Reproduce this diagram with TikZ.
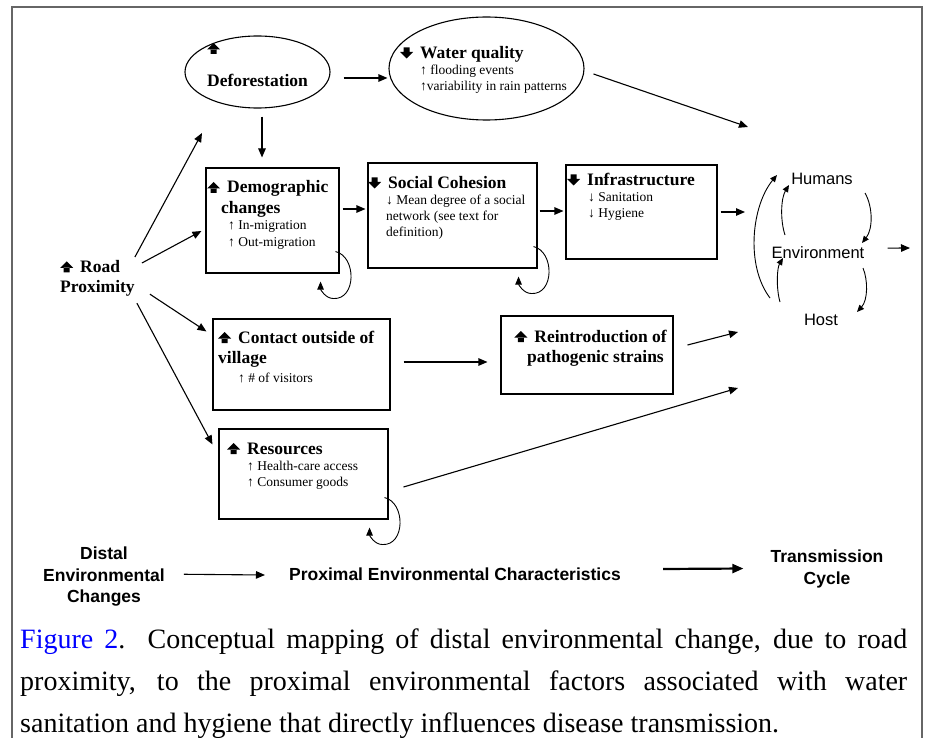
\documentclass[tikz,border=0pt]{standalone}
\usepackage{fontspec}
\setmainfont{Liberation Serif}
\setsansfont{Liberation Sans}
\usetikzlibrary{shapes.geometric, arrows.meta, calc}

% solid block arrows in front of the box titles
\newcommand\blockup{\tikz[baseline=0pt,x=1pt,y=1pt]\fill (3.5,0) rectangle (9.5,5) (0,4.5) -- (13,4.5) -- (6.5,11) -- cycle;}
\newcommand\blockdown{\tikz[baseline=0pt,x=1pt,y=1pt]\fill (3.5,6.5) rectangle (9.5,11.5) (0,7) -- (13,7) -- (6.5,0.5) -- cycle;}
\newcommand\upmark{\blockup\hspace{7pt}}
\newcommand\downmark{\blockdown\hspace{7pt}}
% feedback loop below the lower right corner of a box
\newcommand\loopback[1]{%
  \draw[looparr] ($(#1.south east)+(-4,-22)$) .. controls +(21,5) and +(23,1) .. ($(#1.south east)+(-6,25)$)
    .. controls +(-8,0) and +(0,8) .. ($(#1.south east)+(-19,8)$);}

\tikzset{
  outerframe/.style={draw=black!60, line width=1.5pt},
  box/.style={draw, line width=1.1pt, inner sep=0pt},
  oval/.style={ellipse, draw, line width=1.1pt, inner sep=0pt},
  ttl/.style={font=\fontsize{17.5}{20.5}\selectfont\bfseries, inner sep=0pt, anchor=base west},
  body/.style={font=\fontsize{13.5}{16}\selectfont, inner sep=0pt, align=left, anchor=north west, execute at begin node=\strut},
  cyclbl/.style={font=\sffamily\fontsize{16.5}{19}\selectfont, inner sep=0pt, anchor=base},
  keylbl/.style={font=\sffamily\bfseries\fontsize{17.5}{21.5}\selectfont, inner sep=0pt, align=center},
  caption/.style={font=\fontsize{28}{42}\selectfont, text width=887pt, align=justify, inner sep=0pt, anchor=north west, execute at begin node=\strut},
  arr/.style={-{Triangle[length=9pt,width=7.5pt]}, line width=1.1pt},
  looparr/.style={-{Triangle[length=8pt,width=6.5pt]}, line width=0.9pt},
  cycarr/.style={-{Triangle[length=7pt,width=6pt]}, line width=0.9pt},
  bigarr/.style={-{Triangle[length=11pt,width=9pt]}, line width=2.2pt},
}

\begin{document}
\begin{tikzpicture}[x=1pt,y=-1pt]
  \useasboundingbox (0,0) rectangle (927,738);
  \clip (0,0) rectangle (927,738);
  \draw[outerframe] (12,7) rectangle (922,760);

  % distal changes
  \node[oval, minimum width=145pt, minimum height=72pt] (defor) at (257.5,72) {};
  \node[oval, minimum width=195pt, minimum height=103pt] (water) at (486.5,68.5) {};

  % proximal characteristics
  \node[box, minimum width=133pt, minimum height=105pt] (demo) at (272.5,220.5) {};
  \node[box, minimum width=169pt, minimum height=105pt] (social) at (452.5,215.5) {};
  \node[box, minimum width=151pt, minimum height=94pt] (infra) at (641.5,212) {};
  \node[box, minimum width=177pt, minimum height=91pt] (contact) at (301.5,364.5) {};
  \node[box, minimum width=172pt, minimum height=78pt] (reintro) at (587,355) {};
  \node[box, minimum width=169pt, minimum height=90pt] (resources) at (303.5,474) {};

  % box texts
  \node[inner sep=0pt, anchor=base west] (defor-a) at (207,54) {\blockup};
  \node[ttl] (defor-t) at (207,87) {Deforestation};
  \node[ttl] (water-t) at (400,59) {\downmark Water quality};
  \node[body] (water-b) at (420,64.8) {↑ flooding events\\↑variability in rain patterns};
  \node[ttl] (demo-t) at (207,193) {\upmark Demographic};
  \node[ttl] (demo-t2) at (221,214) {changes};
  \node[body, font=\fontsize{13.5}{17}\selectfont] (demo-b) at (228,220.1) {↑ In-migration\\↑ Out-migration};
  \node[ttl] (social-t) at (368,189) {\downmark Social Cohesion};
  \node[body] (social-b) at (386,194.8) {↓ Mean degree of a social\\network (see text for\\definition)};
  \node[ttl] (infra-t) at (567,186) {\downmark Infrastructure};
  \node[body] (infra-b) at (588,192.8) {↓ Sanitation\\↓ Hygiene};
  \node[ttl, align=left, anchor=north west, execute at begin node=\strut] (road) at (60,260) {\upmark Road\\Proximity};
  \node[ttl] (contact-t) at (218,343) {\upmark Contact outside of};
  \node[ttl] (contact-t2) at (218,363) {village};
  \node[body] (contact-b) at (238,370.8) {↑ \# of visitors};
  \node[ttl, anchor=base east] (reintro-t) at (667,342) {\upmark Reintroduction of};
  \node[ttl, anchor=base east] (reintro-t2) at (664,362) {pathogenic strains};
  \node[ttl] (resources-t) at (227,454) {\upmark Resources};
  \node[body] (resources-b) at (247,460.8) {↑ Health-care access\\↑ Consumer goods};

  % transmission cycle
  \node[cyclbl] (humans) at (822,185) {Humans};
  \node[cyclbl] (env) at (818,259) {Environment};
  \node[cyclbl] (host) at (821,326) {Host};

  % free arrow ends
  \coordinate (road-up) at (202,133);
  \coordinate (cyc-w) at (748,127);
  \coordinate (cyc-i) at (745,212);
  \coordinate (cyc-r) at (738,332);
  \coordinate (cyc-s) at (738,388);
  \coordinate (cyc-out) at (910,248);

  % key
  \node[keylbl, anchor=north, execute at begin node=\strut] (distal) at (104,547) {Distal\\Environmental\\Changes};
  \node[keylbl, anchor=base] (proximal) at (455,580) {Proximal Environmental Characteristics};
  \node[keylbl, anchor=north, execute at begin node=\strut] (trans) at (827,550) {Transmission\\Cycle};

  % connectors
  \draw[arr] ($(defor.east)+(13,6)$) -- ($(water.west)+(-1,9.5)$);
  \draw[arr] ($(water.east)+(9,5.5)$) -- (cyc-w);
  \draw[arr] ($(defor.south)+(4.5,8)$) -- ($(demo.north)+(-10.5,-10)$);
  \draw[arr] ($(road.north east)+(0,-3)$) -- (road-up);
  \draw[arr] ($(road.north east)+(7,3)$) -- ($(demo.west)+(-4,10.5)$);
  \draw[arr] ($(road.south east)+(15,-5)$) -- ($(contact.north west)+(-6,13)$);
  \draw[arr] ($(road.south east)+(2,4)$) -- ($(resources.north west)+(-6,16)$);
  \draw[arr] ($(demo.east)+(3,-11.5)$) -- ($(social.west)+(-2,-6.5)$);
  \draw[arr] ($(social.east)+(2,-4.5)$) -- ($(infra.west)+(-2,-1)$);
  \draw[arr] ($(infra.east)+(3,0)$) -- (cyc-i);
  \draw[arr] ($(contact.east)+(13,-2.5)$) -- ($(reintro.west)+(-13,7)$);
  \draw[arr] ($(reintro.east)+(14,-10)$) -- (cyc-r);
  \draw[arr] ($(resources.east)+(15,13)$) -- (cyc-s);
  \loopback{demo}
  \loopback{social}
  \loopback{resources}

  % cycle arcs
  \draw[cycarr] ($(humans.base)+(43,8)$) .. controls ($(humans.base)+(51,22)$) and ($(env.base)+(55,-30)$) .. ($(env.base)+(44,-16)$);
  \draw[cycarr] ($(env.base)+(45,9)$) .. controls ($(env.base)+(50,21)$) and ($(host.base)+(47,-26)$) .. ($(host.base)+(36,-14)$);
  \draw[cycarr] ($(env.base)+(-33,-24)$) .. controls ($(env.base)+(-38,-39)$) and ($(humans.base)+(-41,13)$) .. ($(humans.base)+(-33,0)$);
  \draw[cycarr] ($(host.base)+(-41,-24)$) .. controls ($(host.base)+(-45,-38)$) and ($(env.base)+(-41,9)$) .. ($(env.base)+(-35,-1)$);
  \draw[cycarr] ($(host.base)+(-51,-28)$) .. controls ($(host.base)+(-76,-61)$) and ($(humans.base)+(-70,20)$) .. ($(humans.base)+(-45,-10)$);
  \draw[arr] ($(env.east)+(23,-5)$) -- (cyc-out);

  % key arrows
  \draw[arr] ($(distal.east)+(19,-4)$) -- ($(proximal.base west)+(-24,-5)$);
  \draw[bigarr] ($(proximal.base east)+(42,-11)$) -- ($(trans.west)+(-27,-2)$);

  % caption
  \node[caption] (cap) at (20,618.6) {\textcolor{blue}{Figure 2}.\ \ Conceptual mapping of distal environmental change, due to road\linebreak proximity, to the proximal environmental factors associated with water\linebreak sanitation and hygiene that directly influences disease transmission.};
\end{tikzpicture}
\end{document}
